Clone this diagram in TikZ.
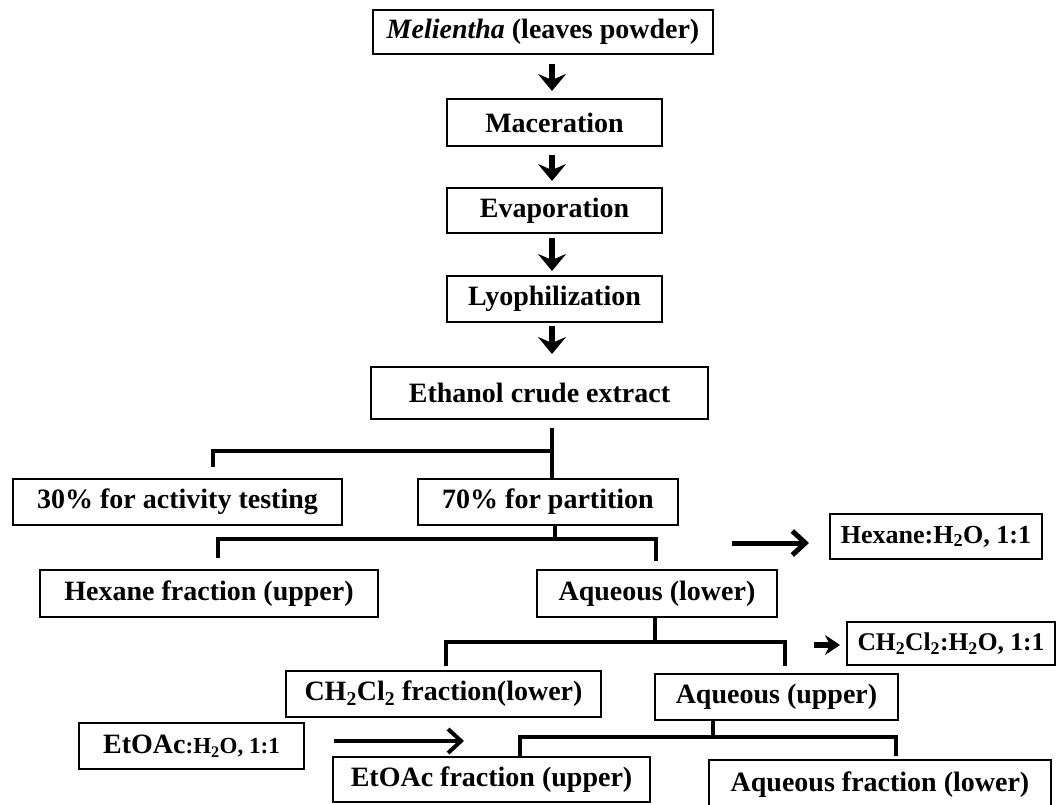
\documentclass[tikz,border=0pt]{standalone}
\usepackage{fontspec}
\setmainfont{Liberation Serif}
\usetikzlibrary{arrows.meta,calc}
\tikzset{
  box/.style={draw, line width=2pt, inner sep=0pt, align=center,
    font=\bfseries\fontsize{28}{30}\selectfont},
  smallbox/.style={box, font=\bfseries\fontsize{26}{28}\selectfont},
  conn/.style={line width=4.5pt, line join=miter, line cap=butt},
  darr/.style={line width=5.5pt, -{Stealth[length=17pt,width=28pt,inset=6pt]}},
  sarr/.style={line width=5.5pt, -{Stealth[length=15pt,width=20pt,inset=5pt]}},
  harr/.style={line width=5pt, line join=miter, -{Straight Barb[length=13pt,width=24pt]}},
}
\begin{document}
\begin{tikzpicture}[x=1pt,y=-1pt]
\fill[white] (0,0) rectangle (1060,805);
\useasboundingbox (0,0) rectangle (1060,805);
\coordinate (ax) at (552,0);
% main column
\node[box, minimum width=340pt, minimum height=44pt] (mel) at (543,32) {\textit{Melientha} (leaves powder)};
\node[box, minimum width=215pt, minimum height=47pt] (mac) at (554.5,122.5) {Maceration};
\node[box, minimum width=215pt, minimum height=45pt] (eva) at (554.5,210.5) {Evaporation};
\node[box, minimum width=215pt, minimum height=46pt] (lyo) at (554.5,299) {Lyophilization};
\node[box, minimum width=337pt, minimum height=52pt] (eth) at (539.5,393) {Ethanol crude extract};
% split
\node[box, minimum width=329pt, minimum height=46pt] (act) at (177.5,502) {30\% for activity testing};
\node[box, minimum width=260pt, minimum height=46pt] (par) at (548,502) {70\% for partition};
\node[box, minimum width=338pt, minimum height=47pt] (hexf) at (209,593.5) {Hexane fraction (upper)};
\node[box, minimum width=240pt, minimum height=47pt] (aql) at (657,593.5) {Aqueous (lower)};
\node[smallbox, minimum width=212pt, minimum height=45pt] (hexs) at (936,536.5) {Hexane:H\textsubscript{2}O, 1:1};
\node[box, minimum width=315pt, minimum height=46pt] (dcmf) at (443.5,694) {CH\textsubscript{2}Cl\textsubscript{2} fraction(lower)};
\node[box, minimum width=243pt, minimum height=46pt] (aqu) at (776.5,697) {Aqueous (upper)};
\node[box, font=\bfseries\fontsize{25.5}{27}\selectfont, minimum width=208pt, minimum height=43pt] (dcms) at (951,643.5) {CH\textsubscript{2}Cl\textsubscript{2}:H\textsubscript{2}O, 1:1};
\node[box, minimum width=225pt, minimum height=46pt] (eas) at (191.5,746) {EtOAc{\fontsize{23}{25}\selectfont :H\textsubscript{2}O, 1:1}};
\node[box, minimum width=317pt, minimum height=45pt] (eaf) at (491.5,779.5) {EtOAc fraction (upper)};
\node[box, minimum width=342pt, minimum height=50pt] (aqf) at (880,785) {Aqueous fraction (lower)};
% down arrows
\draw[darr, shorten <=9pt, shorten >=7pt] (mel.south -| ax) -- (mac.north -| ax);
\draw[darr, shorten <=8pt, shorten >=6pt] (mac.south -| ax) -- (eva.north -| ax);
\draw[darr, shorten <=4pt, shorten >=4pt] (eva.south -| ax) -- (lyo.north -| ax);
\draw[darr, shorten <=3pt, shorten >=12pt] (lyo.south -| ax) -- (eth.north -| ax);
% ethanol split
\draw[conn, shorten <=8pt] (eth.south -| ax) -- (par.north -| ax);
\draw[conn] ($(act.north)+(35.5,-11)$) |- ($(par.north -| ax)+(0,-27)$);
% partition split
\draw[conn] ($(par.south)+(7,0)$) -- ($(par.south)+(7,15)$);
\draw[conn] ($(hexf.north)+(9,-11)$) |- ($(aql.north)+(-1,-30)$) -- ($(aql.north)+(-1,-8)$);
\draw[harr] ($(hexs.west)+(-97,6.5)$) -- ($(hexs.west)+(-20,6.5)$);
% aqueous lower split
\draw[conn] ($(aql.south)+(-2,0)$) -- ($(aql.south)+(-2,26)$);
\draw[conn] ($(dcmf.north)+(2.5,-4)$) |- ($(aqu.north)+(8.5,-31)$) -- ($(aqu.north)+(8.5,-7)$);
\draw[sarr] ($(dcms.west)+(-32,1.5)$) -- ($(dcms.west)+(-6,1.5)$);
% aqueous upper split
\draw[conn] ($(aqu.south)+(-63.5,0)$) -- ($(aqu.south)+(-63.5,18)$);
\draw[conn] ($(eaf.north)+(28.5,0)$) |- ($(aqf.north)+(16,-22)$) -- ($(aqf.north)+(16,-3)$);
\draw[harr, line width=4pt] ($(eas.east)+(29,-5)$) -- ($(eas.east)+(159,-5)$);
\end{tikzpicture}
\end{document}
